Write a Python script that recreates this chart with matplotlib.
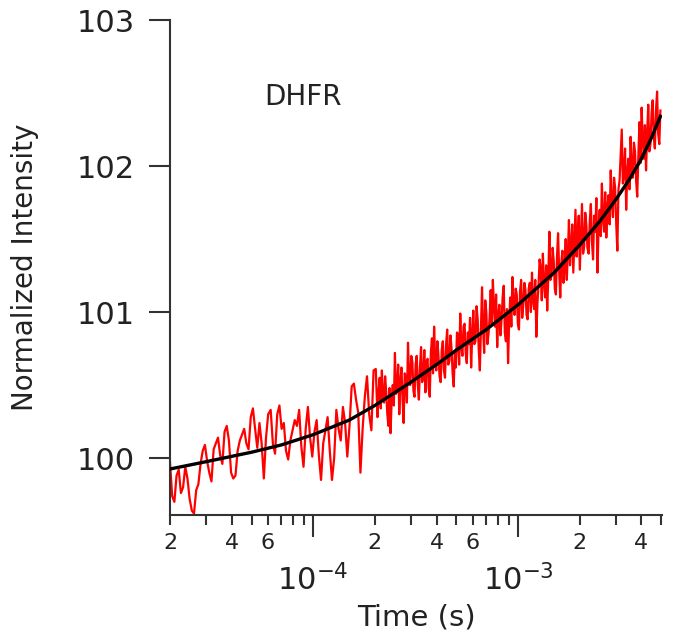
import numpy as np
import matplotlib
matplotlib.use("Agg")
import matplotlib.pyplot as plt
from matplotlib.ticker import FixedLocator, FuncFormatter, LogLocator

# ---- data ----
fit_time = [2.0e-5, 3.0e-5, 5.0e-5, 7.0e-5, 1.0e-4, 1.5e-4, 2.0e-4, 3.0e-4,
            4.0e-4, 5.0e-4, 7.0e-4, 1.0e-3, 1.5e-3, 2.0e-3, 2.5e-3, 3.0e-3,
            3.5e-3, 4.0e-3, 4.5e-3, 4.95e-3]
fit_values = [99.925, 99.975, 100.04, 100.09, 100.16, 100.26, 100.36, 100.52,
              100.64, 100.74, 100.88, 101.05, 101.27, 101.46, 101.62, 101.77,
              101.91, 102.05, 102.20, 102.34]

# time span (s) of each stretch of the measured trace
seg_time_ranges = [(2.0e-5, 6.03e-5), (6.20e-5, 2.02e-4), (2.06e-4, 6.75e-4),
                   (6.83e-4, 2.18e-3), (2.21e-3, 4.95e-3)]

data_seg1 = [99.97, 99.74, 99.70, 99.88, 99.92, 99.76, 99.80, 99.94, 99.86, 99.72,
             99.64, 99.62, 99.78, 99.82, 99.96, 100.05, 100.09, 99.98, 99.90, 99.84,
             100.06, 100.10, 100.14, 100.02, 99.96, 100.18, 100.22, 100.12, 99.90, 99.86,
             99.88, 100.05, 100.12, 100.16, 100.20, 100.10, 100.06, 100.28, 100.34, 100.20,
             100.07, 100.24, 100.10, 99.86, 100.14, 100.30]
data_seg2 = [100.33, 100.10, 100.03, 100.30, 100.36, 100.20, 100.24, 100.05, 99.99, 100.12,
             100.19, 100.26, 100.22, 100.33, 100.08, 99.94, 100.20, 100.35, 100.14, 100.01,
             100.18, 100.26, 100.02, 99.85, 100.10, 100.19, 100.28, 100.05, 99.85, 100.00,
             100.33, 100.20, 100.12, 100.35, 100.24, 100.01, 100.22, 100.49, 100.51, 100.40,
             100.31, 99.90, 100.20, 100.42, 100.56, 100.30, 100.19, 100.60, 100.61]
data_seg3 = [100.28, 100.46, 100.55, 100.34, 100.60, 100.42, 100.38, 100.56, 100.45, 100.30,
             100.22, 100.48, 100.17, 100.40, 100.50, 100.36, 100.72, 100.44, 100.48, 100.64,
             100.30, 100.52, 100.62, 100.40, 100.24, 100.58, 100.55, 100.38, 100.79, 100.56,
             100.50, 100.70, 100.66, 100.46, 100.42, 100.64, 100.70, 100.50, 100.40, 100.62,
             100.76, 100.52, 100.55, 100.74, 100.45, 100.66, 100.68, 100.48, 100.42, 100.72,
             100.82, 100.58, 100.90, 100.66, 100.60, 100.80, 100.70, 100.56, 100.52, 100.74,
             100.80, 100.60, 100.55, 100.78, 100.88, 100.64, 100.66, 100.84, 100.75, 100.58,
             100.49, 100.72, 100.62, 100.86, 100.85, 100.64, 100.99, 100.76, 100.70, 100.90,
             100.92, 100.72, 100.65, 100.86, 100.78, 100.96, 100.62, 100.84, 101.01, 100.78,
             100.80, 101.04, 100.95, 100.74, 100.60, 100.90, 101.17, 100.88]
data_seg4 = [100.72, 101.08, 101.00, 100.78, 100.85, 100.96, 101.15, 100.92, 101.22, 101.04,
             100.90, 101.12, 100.76, 100.98, 101.05, 100.84, 100.95, 101.10, 101.18, 100.86,
             100.80, 101.02, 100.65, 100.94, 101.10, 100.90, 101.24, 101.06, 100.98, 101.16,
             101.12, 100.92, 100.88, 101.14, 101.22, 100.96, 101.05, 101.20, 101.15, 100.98,
             100.95, 101.16, 101.20, 101.00, 101.27, 101.08, 101.02, 101.22, 100.83, 101.06,
             101.18, 101.36, 101.30, 101.08, 101.40, 101.20, 101.10, 101.32, 101.01, 101.24,
             101.55, 101.22, 101.25, 101.44, 101.35, 101.16, 101.12, 101.38, 101.54, 101.28,
             101.10, 101.34, 101.42, 101.20, 101.30, 101.50, 101.22, 101.40, 101.63, 101.32,
             101.45, 101.60, 101.27, 101.48, 101.70, 101.38, 101.50, 101.66, 101.29, 101.52,
             101.74, 101.40, 101.45, 101.68, 101.60, 101.44]
data_seg5 = [101.40, 101.62, 101.74, 101.48, 101.36, 101.66, 101.55, 101.78, 101.27, 101.58,
             101.70, 101.52, 101.88, 101.64, 101.55, 101.82, 101.51, 101.72, 101.80, 101.60,
             101.97, 101.74, 101.65, 101.92, 101.85, 101.60, 101.42, 101.84, 101.90, 102.08,
             102.25, 101.88, 101.95, 102.12, 101.70, 101.96, 102.05, 101.84, 102.20, 101.98,
             101.92, 102.16, 102.10, 101.90, 101.79, 102.06, 102.30, 102.02, 102.40, 102.18,
             102.05, 102.28, 101.97, 102.22, 102.42, 102.10, 102.15, 102.36, 102.45, 102.20,
             102.12, 102.38, 102.51, 102.22, 102.15, 102.38]
segments = [data_seg1, data_seg2, data_seg3, data_seg4, data_seg5]

time = np.concatenate([np.geomspace(a, b, len(seg))
                       for (a, b), seg in zip(seg_time_ranges, segments)])
intensity = np.concatenate(segments)

y_ticks = [100, 101, 102, 103]
x_major = [1e-4, 1e-3]
minor_labelled = (2, 4, 6)

# ---- figure ----
plt.rcParams['font.family'] = ['DejaVu Sans']
fig = plt.figure(figsize=(6.75, 6.44), dpi=100)
W, H = 675, 644
ax = fig.add_axes([170 / W, 1 - 515 / H, (662 - 170) / W, (515 - 20) / H])

ax.plot(time, intensity, color='#ff0000', lw=1.6, zorder=2)
ax.plot(fit_time, fit_values, color='black', lw=2.4, zorder=3)

ax.set_xscale('log')
ax.set_xlim(2.0e-5, 5.04e-3)
ax.set_ylim(99.61, 103)

for s in ('top', 'right'):
    ax.spines[s].set_visible(False)
for s in ('left', 'bottom'):
    ax.spines[s].set_linewidth(1.5)
    ax.spines[s].set_color('#333333')

tick_col = '#222222'
ax.set_yticks(y_ticks)
ax.set_yticklabels([str(v) for v in y_ticks])
ax.tick_params(axis='y', direction='out', length=15, width=1.5, pad=10,
               labelsize=22, color='#333333', labelcolor=tick_col)

ax.xaxis.set_major_locator(FixedLocator(x_major))
ax.xaxis.set_major_formatter(FuncFormatter(
    lambda v, p: r'$10^{\mathregular{%d}}$' % int(round(np.log10(v)))))
ax.xaxis.set_minor_locator(LogLocator(base=10, subs=np.arange(2, 10), numticks=20))


def minor_fmt(v, p):
    m = v / 10 ** np.floor(np.log10(v) + 1e-9)
    d = int(round(m))
    return str(d) if d in minor_labelled else ''


ax.xaxis.set_minor_formatter(FuncFormatter(minor_fmt))
ax.tick_params(axis='x', which='major', direction='out', length=16, width=1.5,
               pad=19, labelsize=22, color='#333333', labelcolor=tick_col)
ax.tick_params(axis='x', which='minor', direction='out', length=7, width=1.5,
               pad=6, labelsize=16, color='#333333', labelcolor=tick_col)

ax.set_xlabel('Time (s)', fontsize=21, color=tick_col, va='center')
ax.xaxis.set_label_coords(0.5, -0.208)
ax.set_ylabel('Normalized Intensity', fontsize=20, color=tick_col, va='center')
ax.yaxis.set_label_coords(-0.2947, 0.5)

ax.text(0.27, 0.844, 'DHFR', transform=ax.transAxes, ha='center', va='center',
        fontsize=20, color=tick_col)

fig.savefig('out.png', dpi=100)
